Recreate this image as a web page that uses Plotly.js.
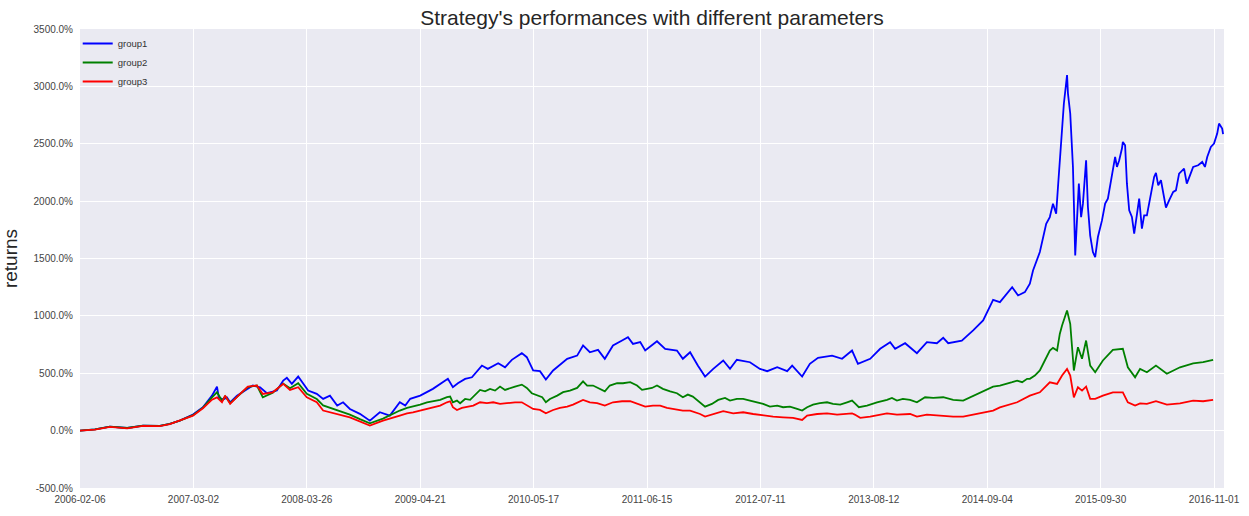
<!DOCTYPE html>
<html>
<head>
<meta charset="utf-8">
<script src="https://cdn.plot.ly/plotly-3.0.1.min.js"></script>
<style>html,body{margin:0;padding:0;background:#fff;}#chart{width:1249px;height:516px;}</style>
</head>
<body>
<div id="chart"></div>
<script>
// x = trading-day index, labelled with dates every 250 days
const tickIdx = [0, 250, 500, 750, 1000, 1250, 1500, 1750, 2000, 2250, 2500];
const tickDates = ["2006-02-06","2007-03-02","2008-03-26","2009-04-21","2010-05-17","2011-06-15","2012-07-11","2013-08-12","2014-09-04","2015-09-30","2016-11-01"];
const yTickVals = [-500, 0, 500, 1000, 1500, 2000, 2500, 3000, 3500];
const yTickText = ["-500.0%","0.0%","500.0%","1000.0%","1500.0%","2000.0%","2500.0%","3000.0%","3500.0%"];

const g1Idx = [0,33,66,104,139,176,198,220,249,271,291,302,306,315,324,331,346,368,381,397,412,434,448,456,467,481,492,503,522,536,551,567,580,595,617,639,661,683,705,717,728,750,778,811,822,833,849,864,886,899,922,937,952,974,985,999,1014,1027,1043,1074,1096,1109,1124,1142,1157,1175,1195,1208,1219,1235,1246,1272,1290,1316,1329,1345,1362,1378,1396,1418,1433,1448,1477,1499,1515,1537,1559,1570,1592,1609,1627,1638,1658,1680,1702,1715,1742,1764,1786,1797,1819,1845,1867,1889,1903,1914,1944,1969,1991,2013,2028,2055,2068,2083,2094,2101,2116,2130,2138,2145,2152,2156,2165,2169,2176,2178,2183,2189,2194,2198,2202,2207,2211,2218,2222,2227,2233,2238,2244,2253,2260,2266,2275,2282,2286,2291,2297,2299,2304,2308,2313,2319,2324,2330,2335,2341,2346,2352,2359,2368,2372,2377,2383,2388,2394,2401,2410,2416,2423,2434,2440,2447,2454,2465,2474,2480,2485,2493,2500,2507,2511,2518,2520];
const g1Val = [0,10,35,23,44,41,58,87,140,203,305,384,290,270,290,247,305,364,393,378,326,349,436,460,407,471,407,349,320,277,305,218,247,189,146,87,160,131,247,218,277,305,364,451,378,413,451,465,567,538,587,552,617,675,640,524,518,445,524,626,654,742,683,704,626,742,785,814,756,771,698,779,713,698,626,683,567,471,538,611,538,617,596,538,518,552,518,567,471,582,634,640,654,626,698,582,626,713,771,713,762,675,771,762,809,762,785,873,960,1140,1120,1250,1178,1207,1280,1396,1556,1803,1861,1978,1891,2123,2661,2851,3098,2938,2764,2298,1527,1861,2153,1861,1978,2356,1949,1700,1556,1512,1687,1832,1978,2022,2225,2385,2298,2356,2458,2516,2487,2152,1920,1862,1716,1891,2022,1760,1876,1876,2036,2211,2246,2138,2182,2065,1943,2007,2080,2094,2240,2283,2152,2225,2298,2312,2341,2298,2385,2472,2501,2589,2676,2632,2583];

const g2Idx = [0,33,66,104,139,176,198,220,249,271,291,302,313,320,331,353,370,390,403,425,448,463,481,500,522,536,567,595,617,639,668,705,721,734,750,765,778,794,809,816,822,831,838,849,860,871,882,893,904,915,926,937,948,959,974,985,996,1008,1019,1027,1036,1052,1065,1080,1096,1109,1118,1131,1146,1157,1168,1184,1197,1213,1228,1239,1250,1261,1272,1285,1301,1316,1329,1340,1351,1367,1378,1393,1407,1422,1433,1448,1462,1477,1493,1506,1521,1537,1550,1565,1581,1592,1603,1616,1631,1647,1660,1676,1691,1702,1708,1717,1735,1757,1779,1790,1801,1814,1830,1845,1863,1881,1903,1925,1947,1969,1991,2013,2028,2043,2055,2066,2077,2088,2094,2105,2116,2127,2138,2145,2154,2160,2165,2176,2183,2191,2200,2209,2218,2227,2238,2255,2277,2299,2310,2326,2337,2352,2372,2396,2425,2454,2476,2498];
const g2Val = [0,10,35,23,44,41,58,87,135,200,290,334,260,300,240,320,380,393,290,330,410,370,413,320,275,220,175,140,100,64,105,175,198,209,227,247,256,268,291,297,247,262,239,276,268,314,355,343,364,349,384,355,372,384,401,372,326,305,291,247,276,305,335,349,372,430,393,393,364,343,393,413,413,422,393,355,364,372,393,364,343,326,291,314,297,247,209,233,268,285,262,276,276,262,247,233,209,218,204,209,189,175,204,227,239,247,233,227,247,262,239,204,218,247,268,285,262,276,268,247,291,285,291,268,262,305,343,384,393,407,422,436,422,451,451,480,524,611,698,721,698,843,916,1047,931,524,727,626,785,567,509,611,704,713,552,465,538,509,567,495,552,587,596,617];

const g3Idx = [0,33,66,104,139,176,198,220,249,271,291,302,313,320,331,353,370,390,403,425,448,463,481,500,522,536,567,595,639,668,705,721,734,750,765,778,794,809,816,822,831,842,853,867,882,897,911,926,941,959,974,988,999,1014,1027,1043,1058,1074,1087,1109,1124,1140,1157,1175,1195,1213,1228,1246,1263,1279,1294,1316,1329,1345,1367,1378,1396,1418,1440,1462,1484,1506,1528,1550,1572,1592,1603,1625,1647,1669,1702,1708,1720,1742,1770,1779,1801,1830,1845,1867,1896,1925,1947,1969,1991,2013,2028,2066,2094,2116,2138,2154,2165,2176,2183,2191,2200,2209,2218,2227,2238,2255,2277,2299,2310,2326,2337,2352,2372,2396,2425,2454,2476,2498];
const g3Val = [0,8,33,20,42,40,56,85,130,195,270,290,247,305,233,320,384,393,320,334,407,355,378,290,247,175,146,116,44,87,131,151,160,175,189,198,218,247,256,204,180,198,209,218,247,239,247,233,239,247,247,218,189,180,151,180,198,209,227,268,247,239,218,247,256,256,233,209,218,218,198,180,175,175,145,122,145,169,151,160,145,131,122,116,111,93,131,145,151,140,151,140,111,122,145,151,140,145,122,140,131,122,122,140,160,175,203,247,305,334,421,407,480,538,480,290,378,349,384,277,277,305,334,334,247,218,238,233,256,227,238,262,256,268];

const traces = [
  {x: g1Idx, y: g1Val, name: "group1", type: "scatter", mode: "lines", line: {color: "#0000ff", width: 1.8}},
  {x: g2Idx, y: g2Val, name: "group2", type: "scatter", mode: "lines", line: {color: "#008000", width: 1.8}},
  {x: g3Idx, y: g3Val, name: "group3", type: "scatter", mode: "lines", line: {color: "#ff0000", width: 1.8}}
];

const layout = {
  width: 1249, height: 516,
  margin: {l: 80, r: 25, t: 29, b: 28, pad: 0},
  paper_bgcolor: "#ffffff",
  plot_bgcolor: "#eaeaf2",
  font: {family: "Liberation Sans, Arial, sans-serif", color: "#333333", size: 10},
  title: {text: "Strategy's performances with different parameters", x: 0.5, xref: "paper", y: 0.965, yref: "container", yanchor: "middle", font: {size: 21, color: "#262626"}},
  showlegend: true,
  legend: {x: -0.002, y: 1.0, xanchor: "left", yanchor: "top", bgcolor: "rgba(0,0,0,0)", font: {size: 9.5, color: "#333"}, itemwidth: 30, tracegroupgap: 0},
  xaxis: {
    range: [0, 2522], tickvals: tickIdx, ticktext: tickDates,
    showgrid: true, gridcolor: "#ffffff", gridwidth: 1, zeroline: false, showline: false,
    ticks: "", tickfont: {size: 10, color: "#444"}, ticklabelstandoff: 4
  },
  yaxis: {
    range: [-500, 3500], tickvals: yTickVals, ticktext: yTickText,
    showgrid: true, gridcolor: "#ffffff", gridwidth: 1, zeroline: false, showline: false,
    ticks: "", tickfont: {size: 10, color: "#444"}, ticklabelstandoff: 6,
    title: {text: "returns", font: {size: 19, color: "#262626"}, standoff: 14}
  }
};

Plotly.newPlot("chart", traces, layout, {displayModeBar: false, staticPlot: true});
</script>
</body>
</html>
